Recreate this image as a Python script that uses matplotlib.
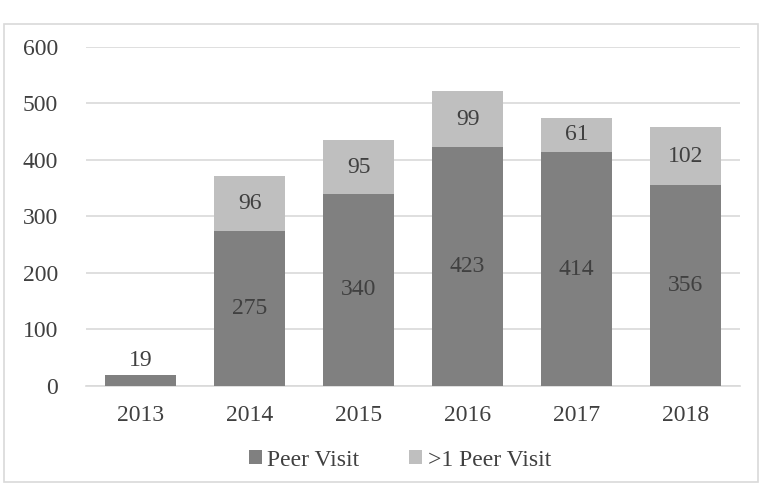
import matplotlib.pyplot as plt
from matplotlib.patches import Rectangle

years = ['2013', '2014', '2015', '2016', '2017', '2018']
peer_visit = [19, 275, 340, 423, 414, 356]
multi_visit = [0, 96, 95, 99, 61, 102]

dark = '#808080'
light = '#bfbfbf'
txt = '#404040'

plt.rcParams['font.family'] = ['Liberation Serif', 'DejaVu Serif']

fig = plt.figure(figsize=(7.63, 4.87), dpi=100)
ax = fig.add_axes([0.1127, 0.2074, 0.8573, 0.6961])

# frame around the chart
fig.patches.append(Rectangle((4 / 763, 5 / 487), 754 / 763, 458 / 487,
                             transform=fig.transFigure, fill=False,
                             edgecolor='#d9d9d9', linewidth=1.2))

x = range(len(years))
b1 = ax.bar(x, peer_visit, width=0.65, color=dark, label='Peer Visit', zorder=3)
b2 = ax.bar(x, multi_visit, width=0.65, bottom=peer_visit, color=light,
            label='>1 Peer Visit', zorder=3)

fs = 17
for i in x:
    p = peer_visit[i]
    m = multi_visit[i]
    if p < 60:
        ax.text(i, p + 8, str(p), ha='center', va='bottom', fontsize=fs, color=txt)
    else:
        ax.text(i, p / 2, str(p), ha='center', va='center', fontsize=fs, color=txt)
    if m > 0:
        ax.text(i, p + m / 2, str(m), ha='center', va='center', fontsize=fs, color=txt)

ax.set_xlim(-0.5, 5.5)
ax.set_ylim(0, 600)
ax.set_yticks(range(0, 601, 100))
ax.set_xticks(list(x))
ax.set_xticklabels(years)
ax.grid(axis='y', color='#d9d9d9', linewidth=1.2, zorder=0)
for s in ['top', 'right', 'left']:
    ax.spines[s].set_visible(False)
ax.spines['bottom'].set_color('#d9d9d9')
ax.spines['bottom'].set_linewidth(1.2)
ax.tick_params(length=0, labelsize=fs, colors=txt)
ax.tick_params(axis='x', pad=14)
ax.tick_params(axis='y', pad=20)

ax.legend(loc='upper center', bbox_to_anchor=(0.48, -0.125), ncol=2, frameon=False,
          fontsize=fs, labelcolor=txt, handlelength=0.55, handleheight=0.55,
          handletextpad=0.25, columnspacing=2.1)

fig.savefig('out.png', dpi=100)
